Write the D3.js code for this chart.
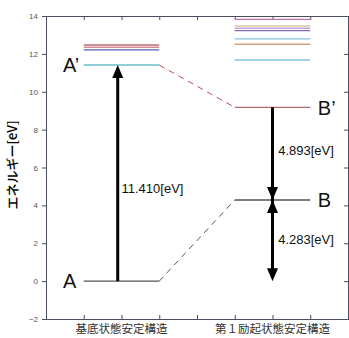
<!DOCTYPE html>
<html>
<head>
<meta charset="utf-8">
<script src="https://cdn.jsdelivr.net/npm/d3@7"></script>
<style>
body { margin: 0; background: #fff; }
svg { display: block; font-family: "Liberation Sans", Arial, sans-serif; }
</style>
</head>
<body>
<div class="container"></div>
<script>
const wd = 349
const ht = 338

// energies in eV
const groundLevels = [0, 11.41, 12.21, 12.35, 12.47]
const excitedLevels = [4.283, 9.176, 11.68, 12.51, 12.79, 13.23, 13.35, 13.47, 13.82]
const groundColors = ["#555", "#6cbccb", "#5b5fb4", "#d58a9c", "#b67070"]
const excitedColors = ["#555", "#b66a6a", "#86c3d6", "#d2a27c", "#86c3d6", "#8a68ad", "#c6a6d8", "#d3c996", "#c070b8"]
const categories = ["基底状態安定構造", "第１励起状態安定構造"]
const yTicks = [-2, 0, 2, 4, 6, 8, 10, 12, 14]
const xTicks = [1, 2, 3, 4, 5, 6, 7]
// arrows: [x, from, to, arrow at start, arrow at end]
const arrows = [
  [1.9, 0, 11.41, false, true],
  [6, 9.176, 4.283, false, true],
  [6, 4.283, 0, true, true]
]
const arrowLabels = [["11.410[eV]", 2.0, 4.9], ["4.893[eV]", 6.15, 6.9], ["4.283[eV]", 6.15, 2.2]]
const stateLabels = [["A", 0.45, 0], ["A’", 0.45, 11.41], ["B", 7.2, 4.283], ["B’", 7.2, 9.176]]

const svg = d3.select(".container").append("svg")
  .attr("width", wd).attr("height", ht)

const x = d3.scaleLinear().domain([0, 8]).range([46, 348])
const y = d3.scaleLinear().domain([-2, 14]).range([319, 16])

const axisCol = "#4a4d5e"

// left axis
const yAxis = svg.append("g").attr("transform", "translate(46,0)")
  .call(d3.axisLeft(y).tickValues(yTicks).tickSize(4).tickPadding(4))
yAxis.select(".domain").attr("stroke", axisCol)
yAxis.selectAll(".tick line").attr("stroke", axisCol)
yAxis.selectAll("text").attr("fill", "#555").style("font-size", "8px")

// right axis, ticks inward
const yAxisR = svg.append("g").attr("transform", "translate(348,0)")
  .call(d3.axisLeft(y).tickValues(yTicks).tickSize(4).tickFormat(""))
yAxisR.select(".domain").attr("stroke", axisCol)
yAxisR.selectAll(".tick line").attr("stroke", axisCol)

// bottom and top
const xAxisB = svg.append("g").attr("transform", "translate(0,319)")
  .call(d3.axisTop(x).tickValues(xTicks).tickSize(4).tickFormat(""))
xAxisB.select(".domain").attr("stroke", axisCol)
xAxisB.selectAll(".tick line").attr("stroke", axisCol)
const xAxisT = svg.append("g").attr("transform", "translate(0,16)")
  .call(d3.axisBottom(x).tickValues(xTicks).tickSize(4).tickFormat(""))
xAxisT.select(".domain").attr("stroke", axisCol)
xAxisT.selectAll(".tick line").attr("stroke", axisCol)

// dashed correlation lines
svg.append("line")
  .attr("x1", x(3)).attr("y1", y(groundLevels[0]))
  .attr("x2", x(5)).attr("y2", y(excitedLevels[0]))
  .attr("stroke", "#555").attr("stroke-width", 1).attr("stroke-dasharray", "6,5")
svg.append("line")
  .attr("x1", x(3)).attr("y1", y(groundLevels[1]))
  .attr("x2", x(5)).attr("y2", y(excitedLevels[1]))
  .attr("stroke", "#c04848").attr("stroke-width", 1).attr("stroke-dasharray", "6,5")

// energy levels
svg.append("g").selectAll("line").data(groundLevels).join("line")
  .attr("x1", x(1)).attr("x2", x(3))
  .attr("y1", d => y(d)).attr("y2", d => y(d))
  .attr("stroke", (d, i) => groundColors[i]).attr("stroke-width", 1.4)
svg.append("g").selectAll("line").data(excitedLevels).join("line")
  .attr("x1", x(5)).attr("x2", x(7))
  .attr("y1", d => y(d)).attr("y2", d => y(d))
  .attr("stroke", (d, i) => excitedColors[i]).attr("stroke-width", 1.4)

// arrows
const head = (px, py, dir) => {
  // dir: -1 pointing up, 1 pointing down
  const L = 13, W = 5.5
  return `M${px},${py} L${px - W},${py - dir * L} L${px + W},${py - dir * L} Z`
}
const ag = svg.append("g")
arrows.forEach(a => {
  const [ax, f, t, hs, he] = a
  const y1 = y(f), y2 = y(t)
  const dir = y2 > y1 ? 1 : -1
  const s1 = hs ? y1 - dir * 10 : y1
  const s2 = he ? y2 - dir * 10 : y2
  ag.append("line").attr("x1", x(ax)).attr("x2", x(ax))
    .attr("y1", s1).attr("y2", s2)
    .attr("stroke", "#000").attr("stroke-width", 3)
  if (he) ag.append("path").attr("d", head(x(ax), y2, dir)).attr("fill", "#000")
  if (hs) ag.append("path").attr("d", head(x(ax), y1, -dir)).attr("fill", "#000")
})

// labels
svg.append("g").selectAll("text").data(arrowLabels).join("text")
  .attr("x", d => x(d[1])).attr("y", d => y(d[2]))
  .attr("dy", "0.35em")
  .style("font-size", "13px").attr("fill", "#111")
  .text(d => d[0])
svg.append("g").selectAll("text").data(stateLabels).join("text")
  .attr("x", d => x(d[1])).attr("y", d => y(d[2]))
  .attr("dy", "0.36em")
  .style("font-size", "20px").attr("fill", "#111")
  .text(d => d[0])

// category labels
svg.append("g").selectAll("text").data(categories).join("text")
  .attr("x", (d, i) => x(i === 0 ? 2 : 6)).attr("y", 333)
  .attr("text-anchor", "middle")
  .style("font-family", "'Noto Sans CJK JP', sans-serif")
  .style("font-size", "11.5px").attr("fill", "#333")
  .text(d => d)

// y title
svg.append("text")
  .attr("transform", "translate(17,165) rotate(-90)")
  .attr("text-anchor", "middle")
  .style("font-family", "'Noto Sans CJK JP', sans-serif")
  .style("font-size", "13px").style("font-weight", "500").attr("fill", "#000")
  .text("エネルギー[eV]")
</script>
</body>
</html>
